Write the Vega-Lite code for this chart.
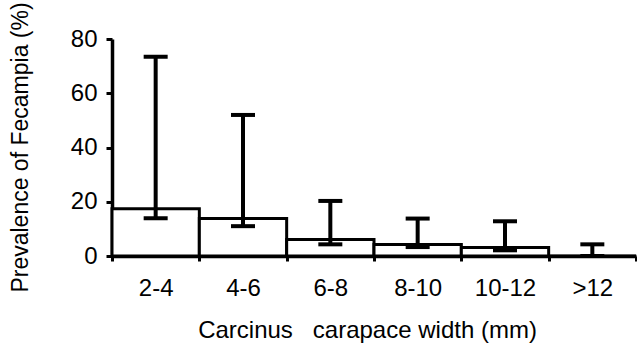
{
  "$schema": "https://vega.github.io/schema/vega-lite/v6.json",
  "autosize": "none",
  "width": 524,
  "height": 217,
  "padding": {"left": 112, "top": 39, "right": 1, "bottom": 87},
  "background": "white",
  "config": {
    "view": {"stroke": null},
    "font": "Liberation Sans",
    "axis": {"domainColor": "black", "domainWidth": 3.5, "tickColor": "black", "tickWidth": 3, "labelColor": "black", "titleColor": "black", "grid": false, "labelFont": "Liberation Sans", "titleFont": "Liberation Sans", "titleFontWeight": "normal"}
  },
  "data": {
    "values": [
      {"width": "2-4", "prev": 17.4, "low": 13.9, "high": 73.5},
      {"width": "4-6", "prev": 13.8, "low": 11.0, "high": 52.0},
      {"width": "6-8", "prev": 6.1, "low": 4.3, "high": 20.3},
      {"width": "8-10", "prev": 4.2, "low": 3.3, "high": 13.8},
      {"width": "10-12", "prev": 3.1, "low": 2.1, "high": 12.8},
      {"width": ">12", "prev": 0, "low": 0, "high": 4.3}
    ]
  },
  "encoding": {
    "x": {
      "field": "width", "type": "nominal",
      "sort": ["2-4", "4-6", "6-8", "8-10", "10-12", ">12"],
      "scale": {"paddingInner": 0, "paddingOuter": 0},
      "axis": {
        "title": "Carcinus\u00a0\u00a0\u00a0carapace width (mm)",
        "labelAngle": 0, "labelFontSize": 24, "labelBaseline": "alphabetic", "labelPadding": 34, "tickSize": 5, "tickBand": "extent",
        "titleFontSize": 24, "titleX": 255, "titleY": 81, "titleBaseline": "alphabetic", "titleAlign": "center"
      }
    }
  },
  "layer": [
    {
      "mark": {"type": "bar", "fill": "white", "stroke": "black", "strokeWidth": 3},
      "encoding": {
        "y": {
          "field": "prev", "type": "quantitative",
          "scale": {"domain": [0, 80], "nice": false},
          "axis": {
            "title": "Prevalence of Fecampia (%)",
            "values": [0, 20, 40, 60, 80], "labelFontSize": 24, "labelPadding": 9, "tickSize": 6,
            "titleFontSize": 23, "titleX": -92, "titleY": 108, "titleAngle": -90, "titleBaseline": "middle", "titleAlign": "center"
          }
        }
      }
    },
    {
      "mark": {"type": "rule", "stroke": "black", "strokeWidth": 4},
      "encoding": {
        "y": {"field": "low", "type": "quantitative"},
        "y2": {"field": "high"}
      }
    },
    {
      "mark": {"type": "tick", "color": "black", "size": 24, "thickness": 4, "opacity": 1},
      "encoding": {"y": {"field": "low", "type": "quantitative"}}
    },
    {
      "mark": {"type": "tick", "color": "black", "size": 24, "thickness": 4, "opacity": 1},
      "encoding": {"y": {"field": "high", "type": "quantitative"}}
    }
  ]
}
